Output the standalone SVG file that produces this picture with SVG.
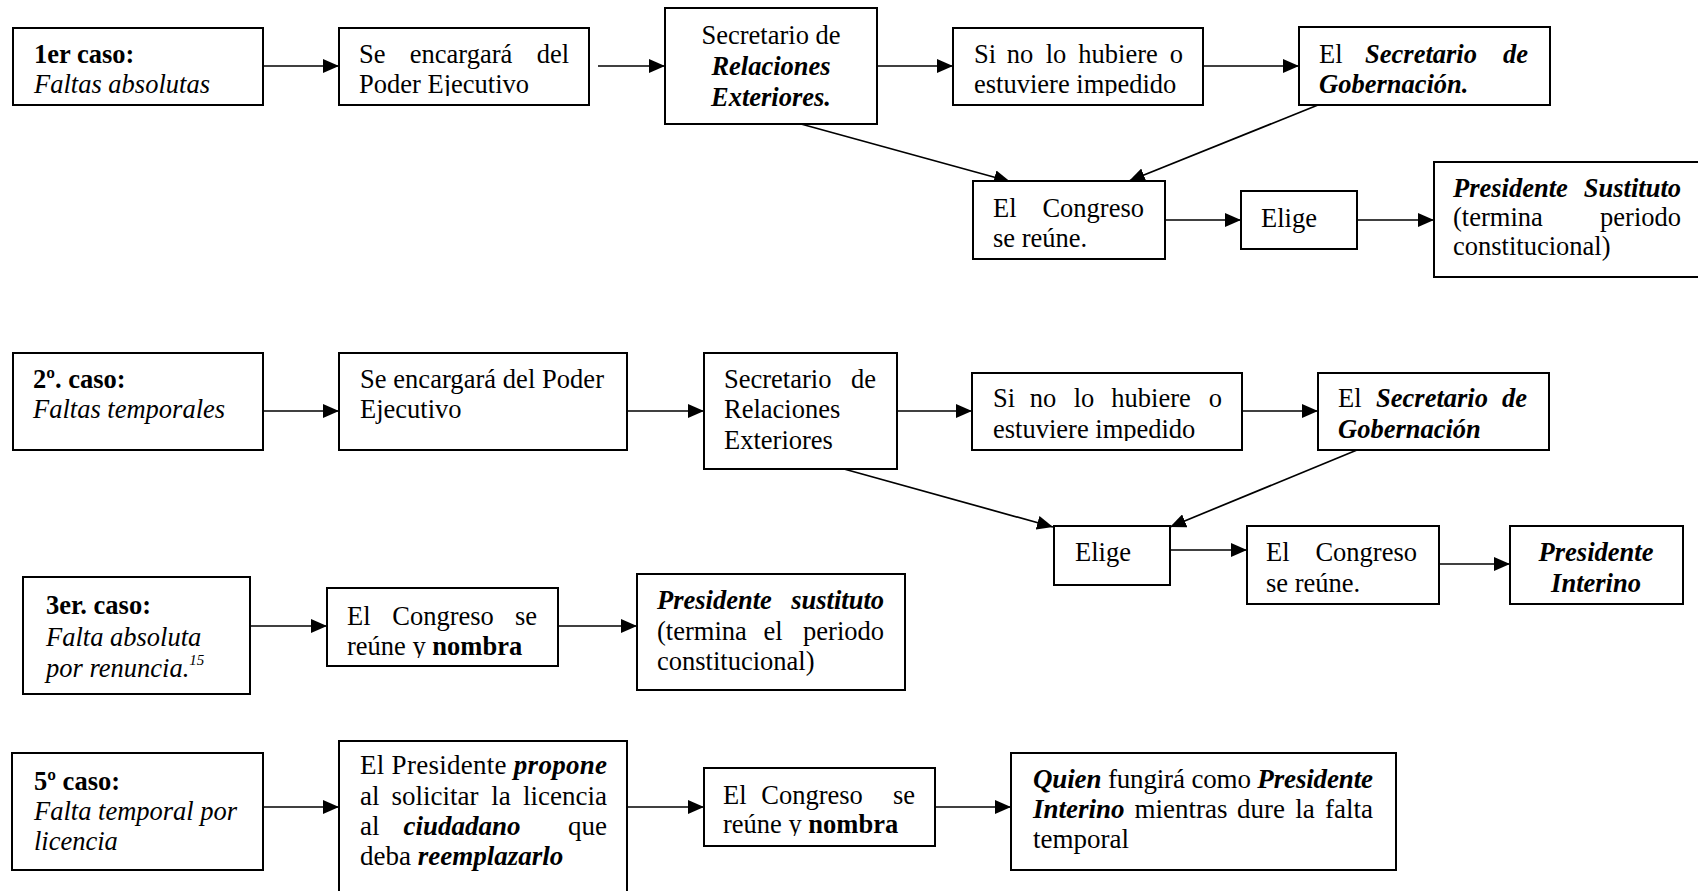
<svg xmlns="http://www.w3.org/2000/svg" width="1698" height="891" viewBox="0 0 1698 891">
<style>
.box{fill:#fff;stroke:#000;stroke-width:2}
.t{font-family:"Liberation Serif","Times New Roman",serif;font-size:26.5px;fill:#000}
.big{font-size:27px}
.b{font-weight:bold}
.i{font-style:italic}
.bi{font-weight:bold;font-style:italic}
.m{text-anchor:middle}
.e{text-anchor:end}
.sup{font-size:15px;font-style:italic}
.conn line{stroke:#000;stroke-width:1.7;marker-end:url(#ah)}
</style>
<defs>
<marker id="ah" markerUnits="userSpaceOnUse" markerWidth="16" markerHeight="14" refX="16" refY="7" orient="auto">
<path d="M0,0 L16,7 L0,14 z" fill="#000"/>
</marker>
<clipPath id="cA2"><rect x="339" y="28" width="250" height="68"/></clipPath>
<clipPath id="cA4"><rect x="953" y="28" width="250" height="68"/></clipPath>
<clipPath id="cB4"><rect x="972" y="373" width="270" height="68"/></clipPath>
<clipPath id="cC2"><rect x="327" y="588" width="231" height="70"/></clipPath>
<clipPath id="cD3"><rect x="704" y="768" width="231" height="68"/></clipPath>
</defs>
<rect width="1698" height="891" fill="#fff"/>

<g class="conn">
<line x1="263" y1="66" x2="339" y2="66"/>
<line x1="598" y1="66" x2="665" y2="66"/>
<line x1="877" y1="66" x2="953" y2="66"/>
<line x1="1203" y1="66" x2="1299" y2="66"/>
<line x1="801" y1="124" x2="1010" y2="181.5"/>
<line x1="1318" y1="105" x2="1129" y2="181"/>
<line x1="1165" y1="220" x2="1241" y2="220"/>
<line x1="1357" y1="220" x2="1434" y2="220"/>
<line x1="263" y1="411" x2="339" y2="411"/>
<line x1="627" y1="411" x2="704" y2="411"/>
<line x1="897" y1="411" x2="972" y2="411"/>
<line x1="1242" y1="411" x2="1318" y2="411"/>
<line x1="844" y1="469" x2="1053" y2="527"/>
<line x1="1357" y1="450" x2="1170" y2="527"/>
<line x1="1170" y1="550" x2="1247" y2="550"/>
<line x1="1439" y1="564" x2="1510" y2="564"/>
<line x1="250" y1="626" x2="327" y2="626"/>
<line x1="558" y1="626" x2="637" y2="626"/>
<line x1="263" y1="807" x2="339" y2="807"/>
<line x1="627" y1="807" x2="704" y2="807"/>
<line x1="935" y1="807" x2="1011" y2="807"/>
</g>

<g id="a1">
<rect class="box" x="13" y="28" width="250" height="77"/>
<text class="t b" x="34" y="63">1er caso:</text>
<text class="t i" x="34" y="93">Faltas absolutas</text>
</g>
<g id="a2">
<rect class="box" x="339" y="28" width="250" height="77"/>
<text class="t" x="359" y="63">Se</text>
<text class="t m" x="461" y="63">encargará</text>
<text class="t e" x="569" y="63">del</text>
<text class="t" x="359" y="93" clip-path="url(#cA2)">Poder Ejecutivo</text>
</g>
<g id="a3">
<rect class="box" x="665" y="8" width="212" height="116"/>
<text class="t m" x="771" y="44">Secretario de</text>
<text class="t bi m" x="771" y="75">Relaciones</text>
<text class="t bi m" x="771" y="106">Exteriores.</text>
</g>
<g id="a4">
<rect class="box" x="953" y="28" width="250" height="77"/>
<text class="t" x="974" y="63">Si</text>
<text class="t m" x="1020" y="63">no</text>
<text class="t m" x="1056" y="63">lo</text>
<text class="t m" x="1118" y="63">hubiere</text>
<text class="t e" x="1183" y="63">o</text>
<text class="t" x="974" y="93" clip-path="url(#cA4)">estuviere impedido</text>
</g>
<g id="a5">
<rect class="box" x="1299" y="27" width="251" height="78"/>
<text class="t" x="1319" y="63">El</text>
<text class="t bi m" x="1421" y="63">Secretario</text>
<text class="t bi e" x="1528" y="63">de</text>
<text class="t bi" x="1319" y="93">Gobernación.</text>
</g>
<g id="a6">
<rect class="box" x="973" y="181" width="192" height="78"/>
<text class="t" x="993" y="217">El</text>
<text class="t e" x="1144" y="217">Congreso</text>
<text class="t" x="993" y="247">se reúne.</text>
</g>
<g id="a7">
<rect class="box" x="1241" y="191" width="116" height="58"/>
<text class="t" x="1261" y="227">Elige</text>
</g>
<g id="a8">
<rect class="box" x="1434" y="162" width="266" height="115"/>
<text class="t bi" x="1453" y="197">Presidente</text>
<text class="t bi e" x="1681" y="197">Sustituto</text>
<text class="t" x="1453" y="226">(termina</text>
<text class="t e" x="1681" y="226">periodo</text>
<text class="t" x="1453" y="255">constitucional)</text>
</g>

<g id="b1">
<rect class="box" x="13" y="353" width="250" height="97"/>
<text class="t b" x="33" y="388">2º. caso:</text>
<text class="t i" x="33" y="418">Faltas temporales</text>
</g>
<g id="b2">
<rect class="box" x="339" y="353" width="288" height="97"/>
<text class="t" x="360" y="388" textLength="244" lengthAdjust="spacing">Se encargará del Poder</text>
<text class="t" x="360" y="418">Ejecutivo</text>
</g>
<g id="b3">
<rect class="box" x="704" y="353" width="193" height="116"/>
<text class="t" x="724" y="388">Secretario</text>
<text class="t e" x="876" y="388">de</text>
<text class="t" x="724" y="418">Relaciones</text>
<text class="t" x="724" y="449">Exteriores</text>
</g>
<g id="b4">
<rect class="box" x="972" y="373" width="270" height="77"/>
<text class="t" x="993" y="407">Si</text>
<text class="t m" x="1043" y="407">no</text>
<text class="t m" x="1084" y="407">lo</text>
<text class="t m" x="1151" y="407">hubiere</text>
<text class="t e" x="1222" y="407">o</text>
<text class="t" x="993" y="438" clip-path="url(#cB4)">estuviere impedido</text>
</g>
<g id="b5">
<rect class="box" x="1318" y="373" width="231" height="77"/>
<text class="t" x="1338" y="407">El</text>
<text class="t bi m" x="1432" y="407">Secretario</text>
<text class="t bi e" x="1527" y="407">de</text>
<text class="t bi" x="1338" y="438">Gobernación</text>
</g>
<g id="b6">
<rect class="box" x="1054" y="526" width="116" height="59"/>
<text class="t" x="1075" y="561">Elige</text>
</g>
<g id="b7">
<rect class="box" x="1247" y="526" width="192" height="78"/>
<text class="t" x="1266" y="561">El</text>
<text class="t e" x="1417" y="561">Congreso</text>
<text class="t" x="1266" y="592">se reúne.</text>
</g>
<g id="b8">
<rect class="box" x="1510" y="526" width="173" height="78"/>
<text class="t bi m" x="1596" y="561">Presidente</text>
<text class="t bi m" x="1596" y="592">Interino</text>
</g>

<g id="c1">
<rect class="box" x="23" y="577" width="227" height="117"/>
<text class="t b" x="46" y="614">3er. caso:</text>
<text class="t i" x="46" y="646">Falta absoluta</text>
<text class="t i" x="46" y="677">por renuncia.<tspan class="sup" dy="-12">15</tspan></text>
</g>
<g id="c2">
<rect class="box" x="327" y="588" width="231" height="78"/>
<text class="t" x="347" y="625">El</text>
<text class="t m" x="443" y="625">Congreso</text>
<text class="t e" x="537" y="625">se</text>
<text class="t" x="347" y="655" clip-path="url(#cC2)">reúne y <tspan class="b">nombra</tspan></text>
</g>
<g id="c3">
<rect class="box" x="637" y="574" width="268" height="116"/>
<text class="t bi" x="657" y="609">Presidente</text>
<text class="t bi e" x="884" y="609">sustituto</text>
<text class="t" x="657" y="640">(termina</text>
<text class="t m" x="773" y="640">el</text>
<text class="t e" x="884" y="640">periodo</text>
<text class="t" x="657" y="670">constitucional)</text>
</g>

<g id="d1">
<rect class="box" x="12" y="753" width="251" height="117"/>
<text class="t b" x="34" y="790">5º caso:</text>
<text class="t i" x="34" y="820">Falta temporal por</text>
<text class="t i" x="34" y="850">licencia</text>
</g>
<g id="d2">
<rect class="box" x="339" y="741" width="288" height="160"/>
<text class="t big" x="360" y="774" textLength="247" lengthAdjust="spacing">El Presidente <tspan class="bi">propone</tspan></text>
<text class="t big" x="360" y="805">al</text>
<text class="t big m" x="435" y="805">solicitar</text>
<text class="t big m" x="501" y="805">la</text>
<text class="t big e" x="607" y="805">licencia</text>
<text class="t big" x="360" y="835">al</text>
<text class="t big bi m" x="462" y="835">ciudadano</text>
<text class="t big e" x="607" y="835">que</text>
<text class="t big" x="360" y="865">deba <tspan class="bi">reemplazarlo</tspan></text>
</g>
<g id="d3">
<rect class="box" x="704" y="768" width="231" height="78"/>
<text class="t" x="723" y="804">El</text>
<text class="t m" x="812" y="804">Congreso</text>
<text class="t e" x="915" y="804">se</text>
<text class="t" x="723" y="833" clip-path="url(#cD3)">reúne y <tspan class="b">nombra</tspan></text>
</g>
<g id="d4">
<rect class="box" x="1011" y="753" width="385" height="117"/>
<text class="t big" x="1033" y="788" textLength="340" lengthAdjust="spacing"><tspan class="bi">Quien</tspan> fungirá como <tspan class="bi">Presidente</tspan></text>
<text class="t big bi" x="1033" y="818">Interino</text>
<text class="t big m" x="1181" y="818">mientras</text>
<text class="t big m" x="1261" y="818">dure</text>
<text class="t big m" x="1305" y="818">la</text>
<text class="t big e" x="1373" y="818">falta</text>
<text class="t big" x="1033" y="848">temporal</text>
</g>
</svg>
